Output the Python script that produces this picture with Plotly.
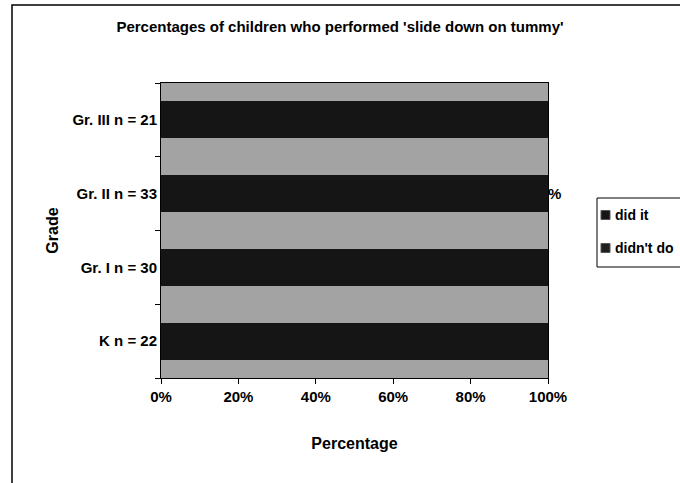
import plotly.graph_objects as go

categories = ["K n = 22", "Gr. I n = 30", "Gr. II n = 33", "Gr. III n = 21"]
did_it = [100, 100, 100, 100]
didnt_do = [0, 0, 0, 0]
series_names = ["did it", "didn't do"]
series_colors = ["#151515", "#202020"]
x_ticks = [0, 20, 40, 60, 80, 100]
x_tick_labels = ["0%", "20%", "40%", "60%", "80%", "100%"]

FONT = "Liberation Sans, Arial"

# pixel -> paper coordinate helpers (plot area 161..548 x 83..378)
def px(x):
    return (x - 161) / 387

def py(y):
    return (378 - y) / 295

fig = go.Figure()
for name, vals, col in zip(series_names, [did_it, didnt_do], series_colors):
    fig.add_trace(go.Bar(y=categories, x=vals, name=name, orientation="h",
                         showlegend=False, marker=dict(color=col, line=dict(width=0))))

# partially hidden data label at the end of the Gr. II bar
fig.add_annotation(x=did_it[2], y=categories[2], text="<b>%</b>", showarrow=False,
                   xanchor="left", xshift=-2, font=dict(family=FONT, size=15, color="black"))

shapes = [
    # chart-area border
    dict(type="rect", xref="paper", yref="paper",
         x0=px(12), x1=px(720), y0=py(520), y1=py(5),
         line=dict(color="black", width=1.5), fillcolor="rgba(0,0,0,0)", layer="below"),
    # legend box
    dict(type="rect", xref="paper", yref="paper",
         x0=px(597), x1=px(720), y0=py(267), y1=py(198),
         line=dict(color="black", width=1), fillcolor="white"),
]
legend_rows = [215, 248]
for name, col, yc in zip(series_names, series_colors, legend_rows):
    shapes.append(dict(type="rect", xref="paper", yref="paper",
                       x0=px(601), x1=px(610), y0=py(yc + 4.5), y1=py(yc - 4.5),
                       line=dict(color="#555555", width=1), fillcolor=col))
    fig.add_annotation(xref="paper", yref="paper", x=px(613), y=py(yc), text="<b>%s</b>" % name,
                       showarrow=False, xanchor="left", yanchor="middle",
                       font=dict(family=FONT, size=14, color="black"))

fig.update_layout(
    width=680, height=483,
    barmode="stack", bargap=0.5,
    paper_bgcolor="white", plot_bgcolor="#a3a3a3",
    margin=dict(l=161, r=132, t=83, b=105, autoexpand=False),
    title=dict(text="<b>Percentages of children who performed 'slide down on tummy'</b>",
               x=0.5, xanchor="center", xref="container", y=0.945, yanchor="middle",
               font=dict(family=FONT, size=15, color="black")),
    font=dict(family=FONT, size=14, color="black"),
    showlegend=False,
    xaxis=dict(range=[0, 100], tickvals=x_ticks, ticktext=["<b>%s</b>" % t for t in x_tick_labels],
               ticks="outside", ticklen=5, tickcolor="black", showgrid=False,
               showline=True, linecolor="black", linewidth=1, mirror=True, zeroline=False,
               title=dict(text="<b>Percentage</b>", font=dict(family=FONT, size=16), standoff=33),
               tickfont=dict(family=FONT, size=15)),
    yaxis=dict(categoryorder="array", categoryarray=categories,
               tickvals=categories, ticktext=["<b>%s</b>" % c for c in categories],
               ticks="outside", ticklen=5, tickcolor="black", tickson="boundaries",
               showline=True, linecolor="black", linewidth=1, mirror=True, showgrid=False,
               title=dict(text="<b>Grade</b>", font=dict(family=FONT, size=16), standoff=9),
               tickfont=dict(family=FONT, size=15)),
    shapes=shapes,
)

fig.write_html("out.html")
